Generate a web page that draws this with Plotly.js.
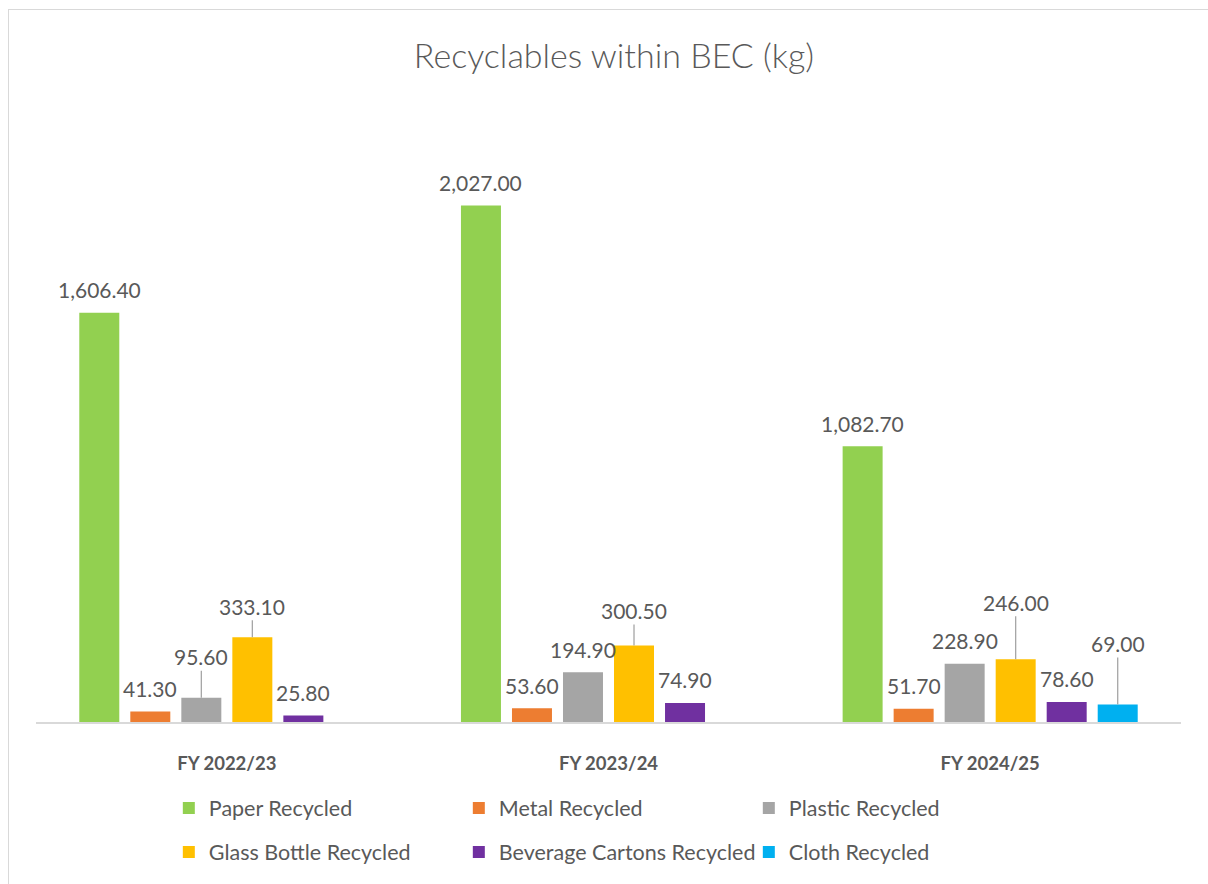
<!DOCTYPE html>
<html>
<head>
<meta charset="utf-8">
<script src="https://cdn.plot.ly/plotly-3.0.1.min.js"></script>
<style>
html,body{margin:0;padding:0;background:#fff;overflow:hidden;width:1208px;height:884px;}
#chart{position:absolute;left:8px;top:9px;width:1210px;height:885px;border:1px solid #d9d9d9;box-sizing:border-box;}
</style>
</head>
<body>
<div id="chart"></div>
<script>
// ---- data ----
const categories = ["FY 2022/23", "FY 2023/24", "FY 2024/25"];
const seriesNames = ["Paper Recycled", "Metal Recycled", "Plastic Recycled", "Glass Bottle Recycled", "Beverage Cartons Recycled", "Cloth Recycled"];
const paper = [1606.4, 2027.0, 1082.7];
const metal = [41.3, 53.6, 51.7];
const plastic = [95.6, 194.9, 228.9];
const glass = [333.1, 300.5, 246.0];
const cartons = [25.8, 74.9, 78.6];
const cloth = [null, null, 69.0];

// ---- style ----
const colors = ["#92D050", "#ED7D31", "#A5A5A5", "#FFC000", "#7030A0", "#00B0F0"];
const allSeries = [paper, metal, plastic, glass, cartons, cloth];
// label leader offsets in px (null = label sits just above bar)
const leaderOffsets = [
  [null, null, null],
  [null, null, null],
  [-41, null, null],
  [-31, -35, -57],
  [null, null, null],
  [null, null, -61]
];
const textColor = "#595959";
const font = "Lato, 'Open Sans', sans-serif";
const bargap = 0.198, bargroupgap = 0.216;

const traces = allSeries.map((vals, i) => ({
  type: "bar",
  name: seriesNames[i],
  x: categories,
  y: vals,
  marker: {color: colors[i]},
  legend: i < 3 ? "legend" : "legend2",
  hoverinfo: "x+y+name"
}));

const fmt = v => v.toLocaleString("en-US", {minimumFractionDigits: 2, maximumFractionDigits: 2});
const nS = allSeries.length;
const annotations = [];
allSeries.forEach((vals, i) => {
  vals.forEach((v, c) => {
    if (v === null) return;
    const xpos = c + (i - (nS - 1) / 2) * (1 - bargap) / nS;
    const off = leaderOffsets[i][c];
    if (off === null) {
      annotations.push({x: xpos, y: v, xref: "x", yref: "y", text: fmt(v), showarrow: false,
        yanchor: "middle", yshift: 23, font: {family: font, size: 21, color: textColor}});
    } else {
      annotations.push({x: xpos, y: v, xref: "x", yref: "y", text: fmt(v), showarrow: true,
        arrowhead: 0, arrowwidth: 1.3, arrowcolor: "#a6a6a6", ax: 0, ay: off, standoff: 0,
        font: {family: font, size: 21, color: textColor}});
    }
  });
});

const legendFont = {family: font, size: 21.5, color: textColor};
const layout = {
  width: 1210, height: 885,
  paper_bgcolor: "rgba(0,0,0,0)", plot_bgcolor: "rgba(0,0,0,0)",
  margin: {l: 27, r: 38, t: 75, b: 173},
  barmode: "group", bargap: bargap, bargroupgap: bargroupgap,
  title: {text: "Recyclables within BEC (kg)", x: 0.5, xanchor: "center", y: 1 - 46 / 885, yanchor: "middle", yref: "container",
    font: {family: font, size: 34, color: textColor, weight: 300}},
  xaxis: {type: "category", showline: true, linecolor: "#d9d9d9", linewidth: 1.5, showgrid: false, zeroline: false,
    ticks: "", ticklabelstandoff: 24, tickfont: {family: font, size: 18.5, color: textColor, weight: "bold"}},
  yaxis: {visible: false, range: [0, 2500], showgrid: false, zeroline: false},
  showlegend: true,
  legend: {orientation: "h", x: 0.116, xanchor: "left", y: -0.135, yanchor: "middle", entrywidth: 245, entrywidthmode: "pixels",
    font: legendFont, bgcolor: "rgba(0,0,0,0)", itemwidth: 30},
  legend2: {orientation: "h", x: 0.116, xanchor: "left", y: -0.204, yanchor: "middle", entrywidth: 245, entrywidthmode: "pixels",
    font: legendFont, bgcolor: "rgba(0,0,0,0)", itemwidth: 30},
  annotations: annotations
};

Plotly.newPlot("chart", traces, layout, {displayModeBar: false, responsive: false});
</script>
</body>
</html>
